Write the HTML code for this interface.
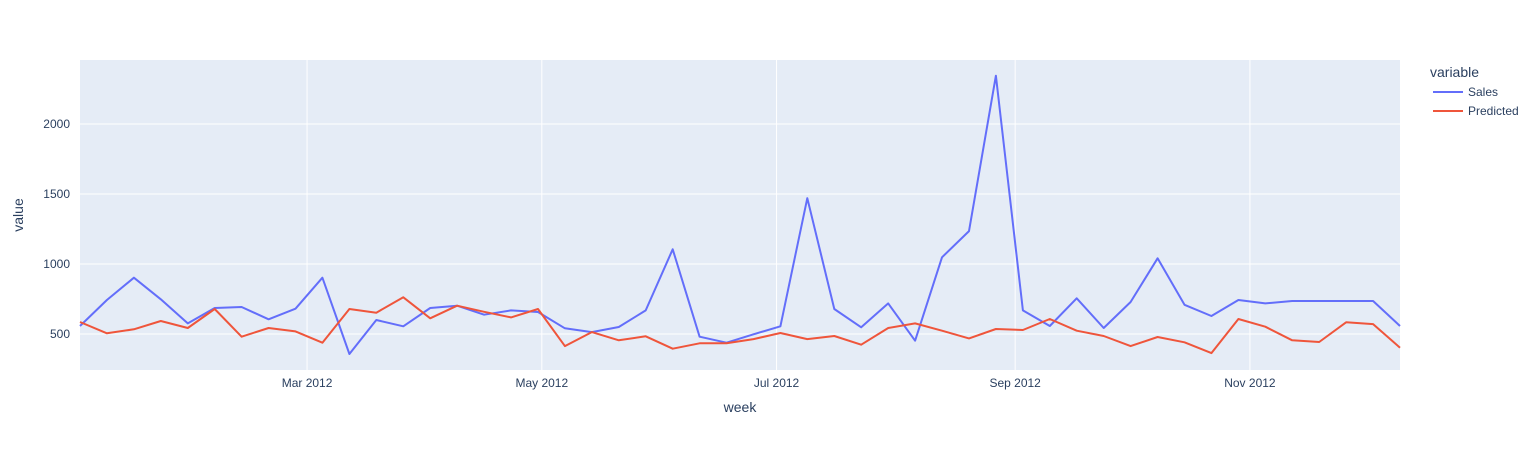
<!DOCTYPE html>
<html><head><meta charset="utf-8"><style>
body{margin:0;background:#fff;}
svg{display:block;font-family:"Liberation Sans",Arial,sans-serif;}
</style></head><body>
<svg id="chart" width="1540" height="450"></svg>
<script>
const startDate = "2012-01-02";
const weeksCount = 50;
const sales = [557,743,902,748,576,686,693,605,681,902,357,600,555,686,702,638,669,657,541,514,550,669,1105,481,438,498,555,1470,679,548,719,452,1048,1235,2345,669,557,755,543,729,1041,709,629,743,719,736,736,736,736,557];
const predicted = [586,505,534,593,543,679,481,543,519,438,679,652,762,612,702,659,619,679,414,514,455,484,395,434,434,464,507,464,486,424,543,576,524,469,536,529,607,524,486,414,479,441,364,607,552,455,443,584,571,402];
const yTicks = [500,1000,1500,2000];
const xTickDates = ["2012-03-01","2012-05-01","2012-07-01","2012-09-01","2012-11-01"];
const xTickLabels = ["Mar 2012","May 2012","Jul 2012","Sep 2012","Nov 2012"];

const NS="http://www.w3.org/2000/svg";
const svg=document.getElementById('chart');
const L=80,R=1400,T=60,B=370;
const DAY=86400000;
const t0=Date.parse(startDate);
const t1=t0+(weeksCount-1)*7*DAY;
const yMin=243,yMax=2457;
function xs(t){return L+(t-t0)/(t1-t0)*(R-L);}
function ys(v){return B-(v-yMin)/(yMax-yMin)*(B-T);}
function mk(tag,attrs,parent){const e=document.createElementNS(NS,tag);for(const k in attrs)e.setAttribute(k,attrs[k]);(parent||svg).appendChild(e);return e;}

const bg=mk('rect',{x:L,y:T,width:R-L,height:B-T,fill:'#E5ECF6'});



yTicks.forEach(v=>{
  const y=ys(v);
  const g=mk('line',{x1:L,x2:R,y1:y,y2:y,stroke:'#fff','stroke-width':1});
  
  
  const t=mk('text',{x:L-10,y:y+4,'text-anchor':'end','font-size':12,fill:'#2a3f5f'});
  t.textContent=v;
  
  
});
xTickDates.forEach((d,i)=>{
  const x=xs(Date.parse(d));
  const g=mk('line',{x1:x,x2:x,y1:T,y2:B,stroke:'#fff','stroke-width':1});
  
  
  const t=mk('text',{x:x,y:B+17,'text-anchor':'middle','font-size':12,fill:'#2a3f5f'});
  t.textContent=xTickLabels[i];
  
  
});

function series(vals,color,name){
  const pts=vals.map((v,i)=>xs(t0+i*7*DAY).toFixed(1)+','+ys(v).toFixed(1)).join(' ');
  const p=mk('polyline',{points:pts,fill:'none',stroke:color,'stroke-width':2,'stroke-linejoin':'round'});
  
  
}
const clip=mk('clipPath',{id:'c'});mk('rect',{x:L,y:T,width:R-L,height:B-T},clip);
series(sales,'#636EFA','sales-line');
series(predicted,'#EF553B','predicted-line');

const xt=mk('text',{x:740,y:412,'text-anchor':'middle','font-size':14,fill:'#2a3f5f'});
xt.textContent='week';


const yt=mk('text',{x:23,y:215,'text-anchor':'middle','font-size':14,fill:'#2a3f5f',transform:'rotate(-90 23 215)'});
yt.textContent='value';



const lt=mk('text',{x:1430,y:77,'font-size':14,fill:'#2a3f5f'});
lt.textContent='variable';


[['Sales','#636EFA',92],['Predicted','#EF553B',111]].forEach(([n,c,y])=>{
  const g=mk('g',{});
  
  
  mk('line',{x1:1433,x2:1463,y1:y,y2:y,stroke:c,'stroke-width':2},g);
  const t=mk('text',{x:1468,y:y+4,'font-size':12,fill:'#2a3f5f'},g);
  t.textContent=n;
});
</script>
</body></html>
